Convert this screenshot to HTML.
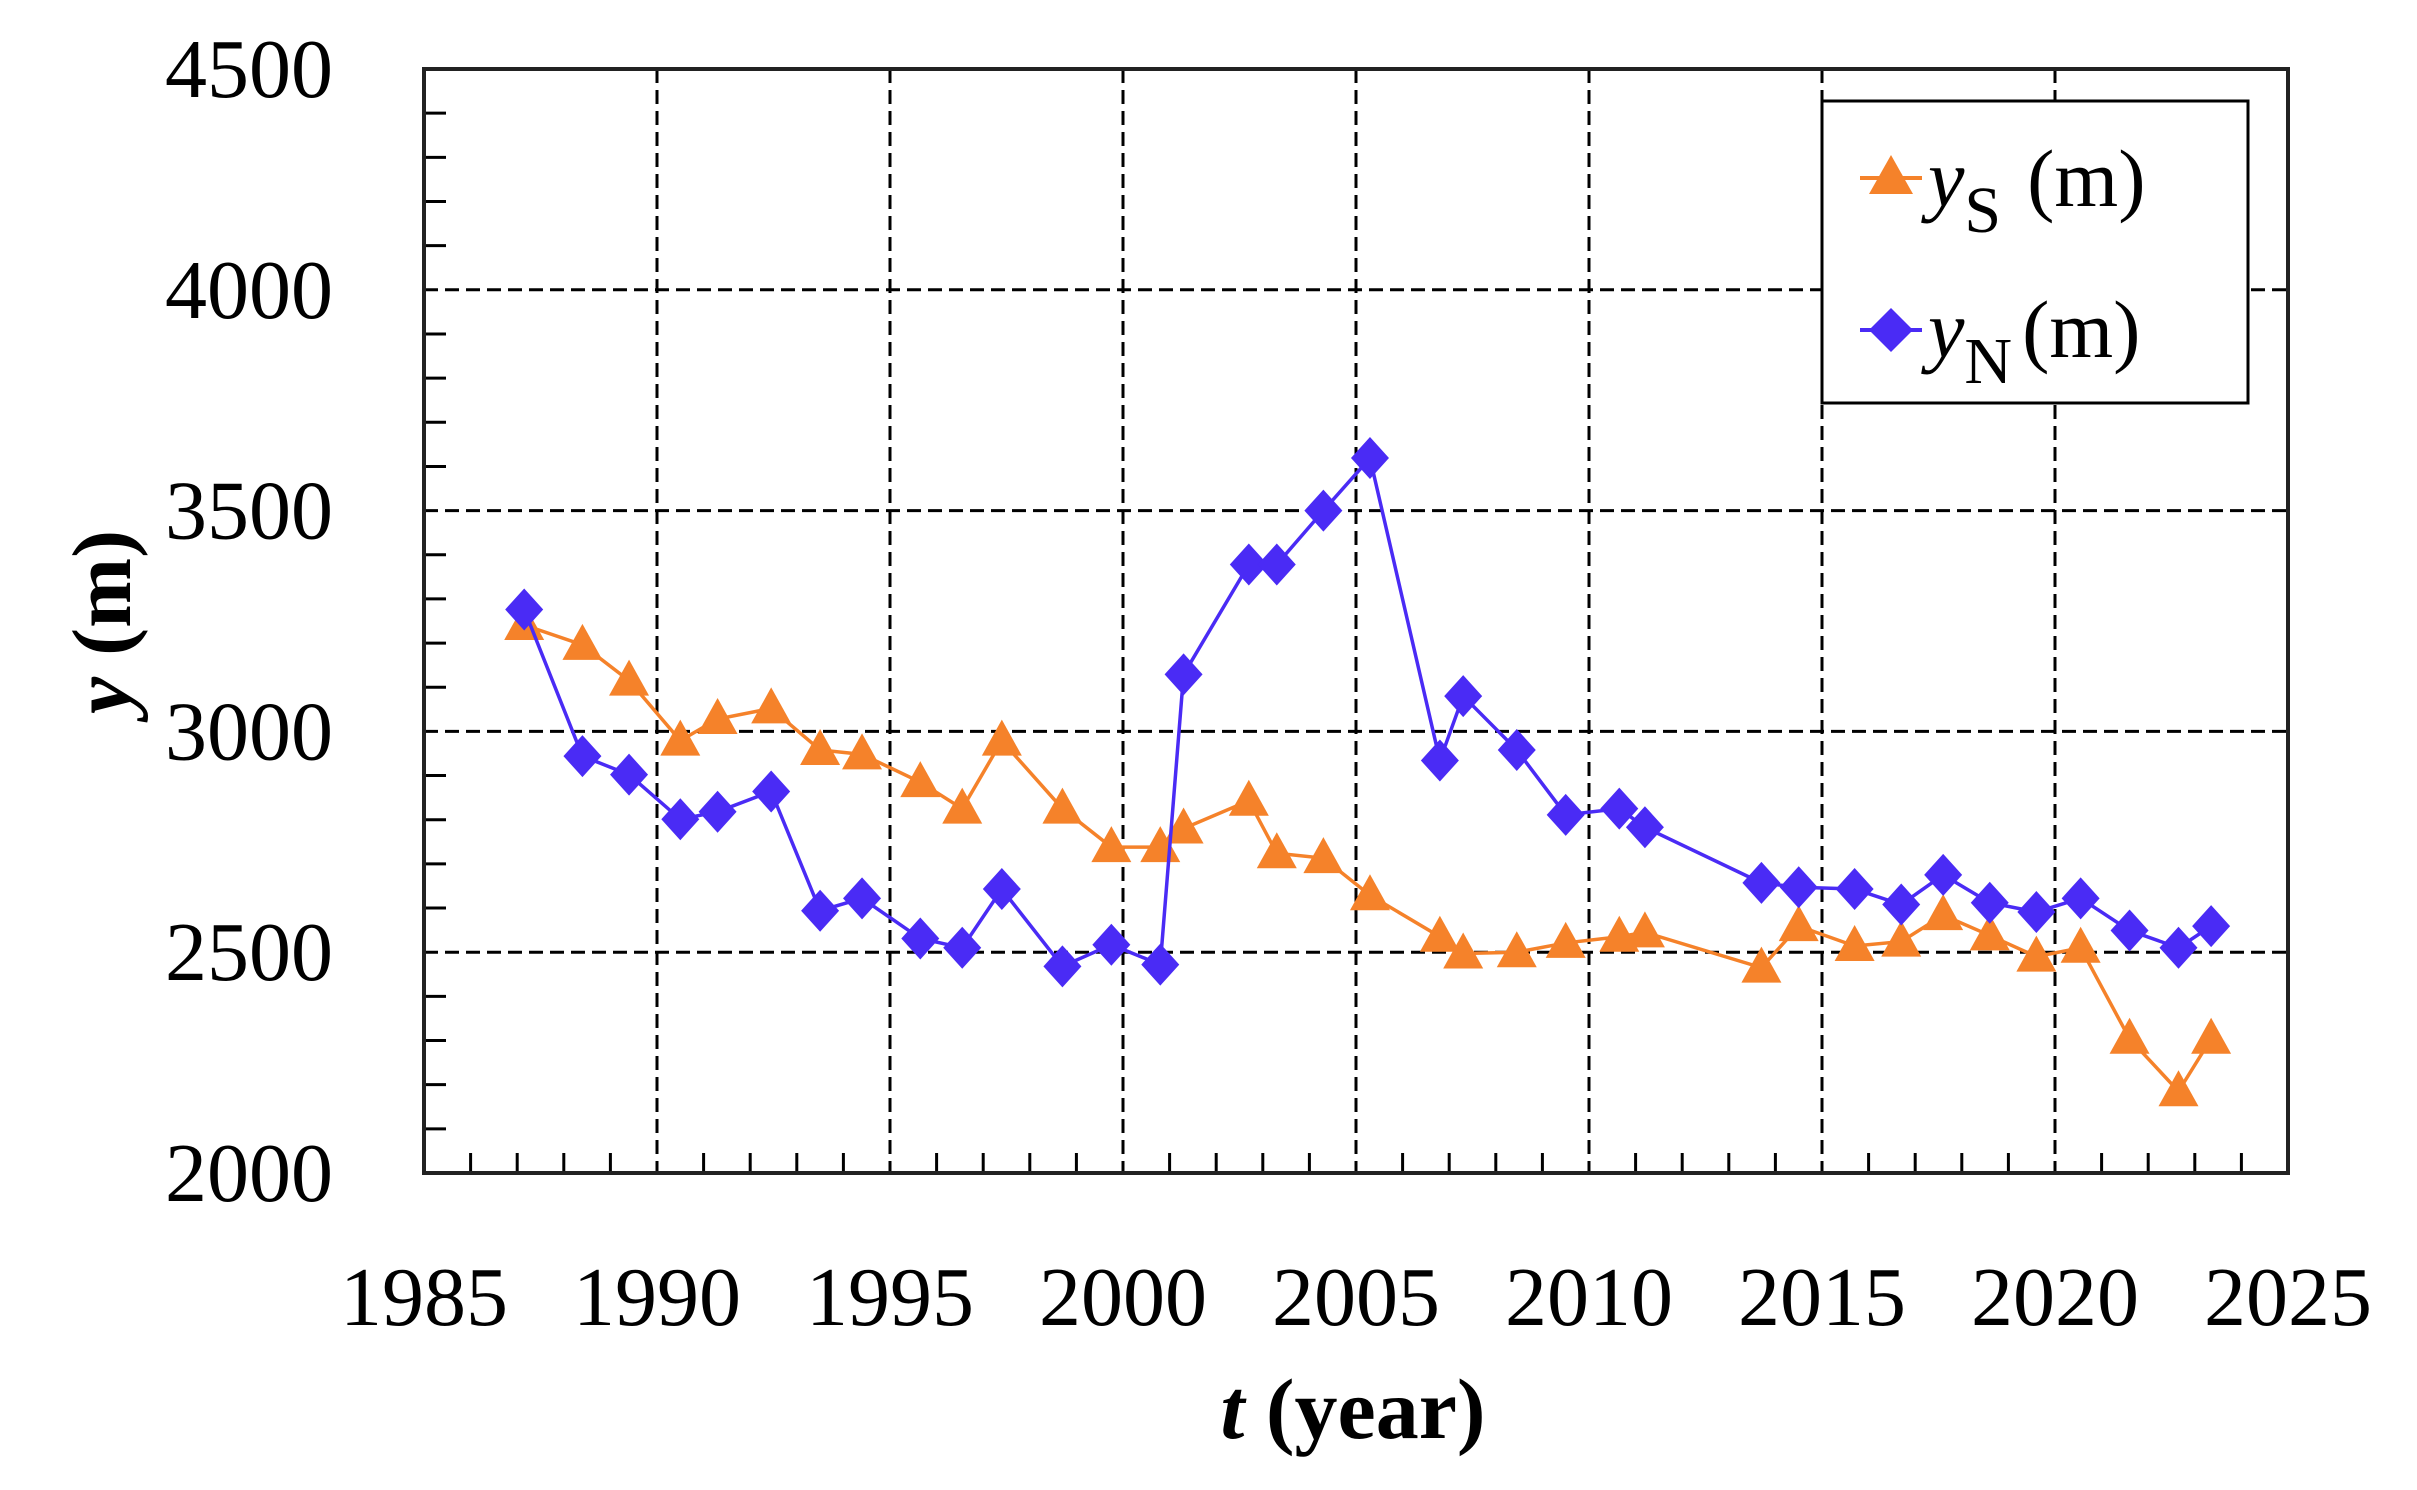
<!DOCTYPE html>
<html><head><meta charset="utf-8"><style>
html,body{margin:0;padding:0;background:#fff;}
svg{display:block;font-family:"Liberation Serif",serif;}
</style></head><body>
<svg id="chart" width="2417" height="1490" viewBox="0 0 2417 1490" xmlns="http://www.w3.org/2000/svg">
<g id="grid"></g>
<g id="axes"></g>
<g id="series"></g>
<text x="1353" y="1438" text-anchor="middle" font-size="86" font-weight="bold"><tspan font-style="italic">t</tspan> (year)</text>
<text transform="translate(130,622) rotate(-90)" text-anchor="middle" font-size="84" font-weight="bold"><tspan font-style="italic">y</tspan> (m)</text>
<g>
<rect x="1822" y="101" width="426" height="302" fill="#fff" stroke="#000" stroke-width="3"/>
<g>
<line x1="1860" y1="178" x2="1922" y2="178" stroke="#F5822A" stroke-width="4"/>
<polygon points="1891,155 1913,194 1869,194" fill="#F5822A"/>
<text x="1928" y="206" font-size="82"><tspan font-style="italic">y</tspan><tspan font-size="66" dy="26">S</tspan><tspan dy="-26" dx="26">(m)</tspan></text>
</g>
<g>
<line x1="1860" y1="330" x2="1922" y2="330" stroke="#4A2BF5" stroke-width="4"/>
<polygon points="1891,308 1913,330 1891,352 1869,330" fill="#4A2BF5"/>
<text x="1928" y="357" font-size="82"><tspan font-style="italic">y</tspan><tspan font-size="66" dy="26">N</tspan><tspan dy="-26" dx="10">(m)</tspan></text>
</g>
</g>
</svg>
<script>
const years = [1987.15,1988.4,1989.4,1990.5,1991.3,1992.45,1993.5,1994.4,1995.65,1996.55,1997.4,1998.7,1999.75,2000.8,2001.3,2002.7,2003.3,2004.3,2005.3,2006.8,2007.3,2008.45,2009.5,2010.65,2011.2,2013.7,2014.5,2015.7,2016.7,2017.6,2018.6,2019.6,2020.55,2021.6,2022.65,2023.35];
const ySValues = [3241,3196,3115,2979,3028,3052,2958,2948,2885,2825,2979,2825,2738,2738,2780,2843,2724,2713,2629,2535,2497,2500,2521,2535,2545,2465,2559,2514,2524,2584,2538,2490,2510,2304,2185,2304];
const yNValues = [3276,2944,2902,2801,2818,2864,2594,2622,2531,2510,2643,2468,2517,2472,3129,3378,3378,3500,3619,2934,3080,2958,2811,2825,2783,2657,2647,2643,2608,2675,2612,2591,2622,2549,2510,2559];
const xTicks = [1985,1990,1995,2000,2005,2010,2015,2020,2025];
const yTicks = [2000,2500,3000,3500,4000,4500];

const L=424,R=2288,T=69,B=1173;
const X0=1985,X1=2025,Y0=2000,Y1=4500;
function xs(v){return L+(v-X0)/(X1-X0)*(R-L);}
function ys(v){return B-(v-Y0)/(Y1-Y0)*(B-T);}
const NS="http://www.w3.org/2000/svg";
function mk(tag,attrs,parent){const e=document.createElementNS(NS,tag);for(const k in attrs)e.setAttribute(k,attrs[k]);parent.appendChild(e);return e;}
const grid=document.getElementById('grid'),axes=document.getElementById('axes'),ser=document.getElementById('series');

for(const t of xTicks){
  if(t>X0&&t<X1){const g=mk('line',{x1:xs(t),x2:xs(t),y1:T,y2:B,stroke:'#000','stroke-width':3,'stroke-dasharray':'14 7'},grid);
  
  }
  const tx=mk('text',{x:xs(t),y:1325,'text-anchor':'middle','font-size':84},axes);
  tx.textContent=t;
  
  
}
for(const t of yTicks){
  if(t>Y0&&t<Y1){const g=mk('line',{x1:L,x2:R,y1:ys(t),y2:ys(t),stroke:'#000','stroke-width':3,'stroke-dasharray':'14 7'},grid);
  
  }
  const tx=mk('text',{x:333,y:ys(t)+28,'text-anchor':'end','font-size':84},axes);
  tx.textContent=t;
  
  
}
for(let v=X0+1;v<X1;v++){if(v%5===0)continue;
  const m=mk('line',{x1:xs(v),x2:xs(v),y1:B,y2:B-20,stroke:'#000','stroke-width':3},axes);
  
  }
for(let v=Y0+100;v<Y1;v+=100){if(v%500===0)continue;
  const m=mk('line',{x1:L,x2:L+22,y1:ys(v),y2:ys(v),stroke:'#000','stroke-width':3},axes);
  
  }
const frame=mk('rect',{x:L,y:T,width:R-L,height:B-T,fill:'none',stroke:'#222','stroke-width':4},axes);



function series(vals,color,shape,name){
  const pts=years.map((x,i)=>xs(x)+','+ys(vals[i])).join(' ');
  const pl=mk('polyline',{points:pts,fill:'none',stroke:color,'stroke-width':3.5},ser);
  
  
  years.forEach((x,i)=>{
    const cx=xs(x),cy=ys(vals[i]);let p;
    if(shape==='tri')p=`${cx},${cy-21} ${cx+20},${cy+15} ${cx-20},${cy+15}`;
    else p=`${cx},${cy-21} ${cx+19},${cy} ${cx},${cy+21} ${cx-19},${cy}`;
    const m=mk('polygon',{points:p,fill:color},ser);
    
    
  });
}
series(ySValues,'#F5822A','tri','ys');
series(yNValues,'#4A2BF5','dia','yn');
</script>
</body></html>
